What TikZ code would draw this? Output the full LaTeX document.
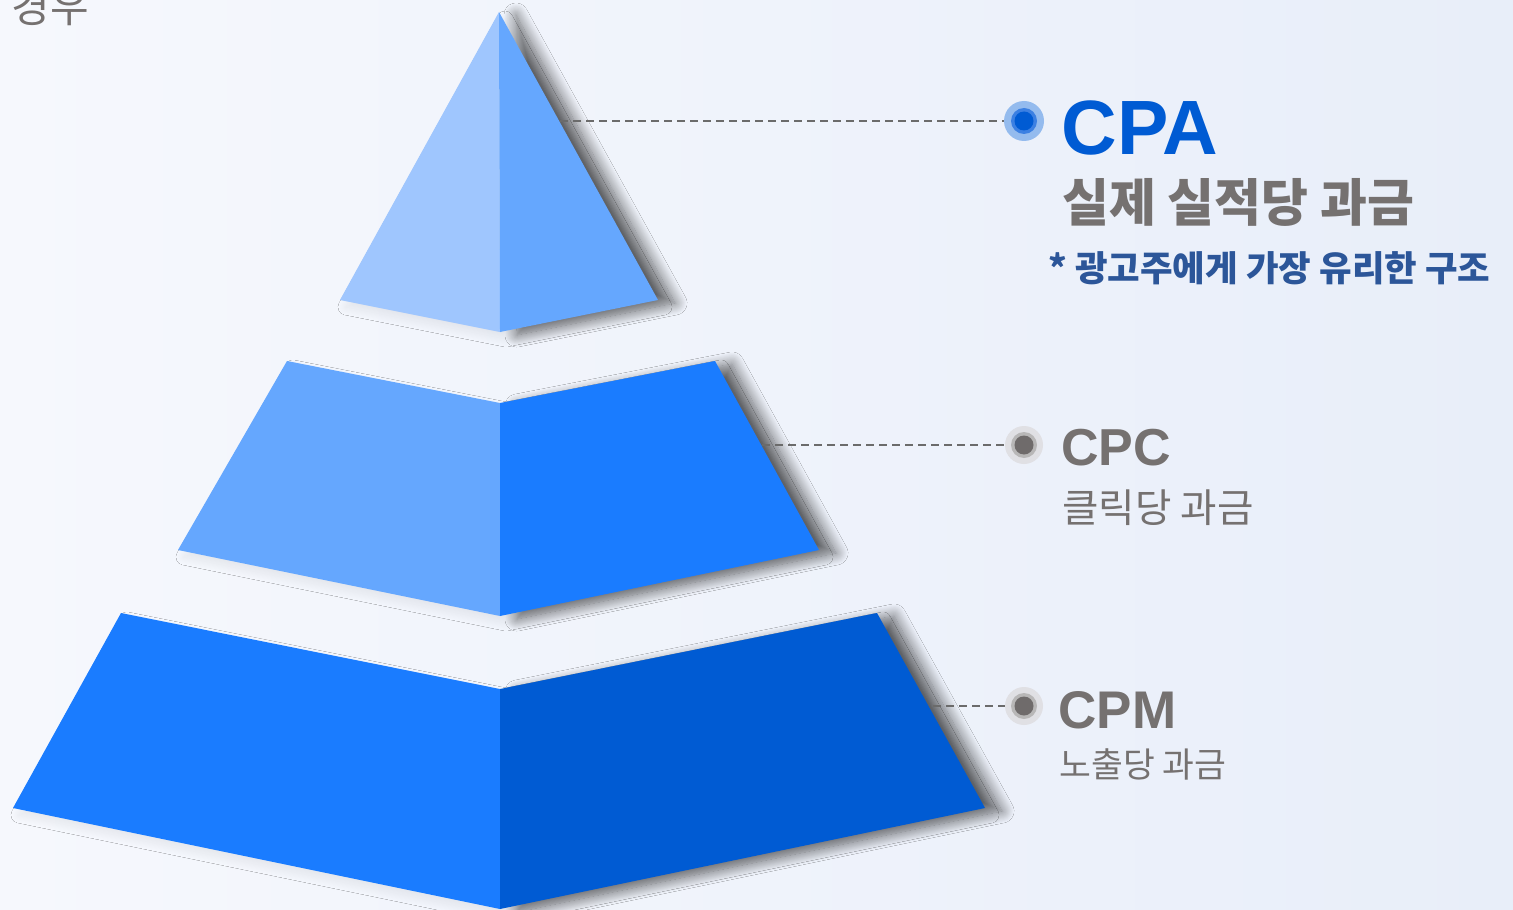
\documentclass[tikz,border=0pt]{standalone}
\usepackage{fontspec}
\setmainfont{Liberation Sans}
\newfontfamily\kr{Noto Sans CJK KR}
\usetikzlibrary{calc,shadows.blur}
\definecolor{bgL}{HTML}{F6F8FD}
\definecolor{bgR}{HTML}{E8EEF9}
\definecolor{cA}{HTML}{9FC6FE}
\definecolor{cB}{HTML}{65A7FE}
\definecolor{cC}{HTML}{1A7CFF}
\definecolor{cD}{HTML}{005BD3}
\definecolor{txtgray}{HTML}{757170}
\definecolor{subblue}{HTML}{2C5699}
\definecolor{dashgray}{HTML}{6B6B6B}
\definecolor{ringblue}{HTML}{94BBEE}
\definecolor{midblue}{HTML}{3C80E2}
\definecolor{ringgray}{HTML}{E0E0E4}
\definecolor{midgray}{HTML}{B8B7B7}
\definecolor{dotgray}{HTML}{6F6B6B}
% raw outlines (used for shadows)
\newcommand\pyrTopR{(499,12) -- (658,300) -- (500,332) -- cycle}
\newcommand\pyrMidR{(500,403) -- (715,361) -- (819,550) -- (500,616) -- cycle}
\newcommand\pyrBotR{(500,689) -- (877,613) -- (985,808) -- (500,909) -- cycle}
\newcommand\pyrTopAll{(499,12) -- (658,300) -- (500,332) -- (340,300) -- cycle}
\newcommand\pyrMidAll{(287,361) -- (500,403) -- (715,361) -- (819,550) -- (500,616) -- (178,550) -- cycle}
\newcommand\pyrBotAll{(121,613) -- (500,689) -- (877,613) -- (985,808) -- (500,909) -- (13,808) -- cycle}
\tikzset{
  hard shadow/.style={blur shadow={shadow xshift=8.5pt, shadow yshift=-1.5pt, shadow blur radius=6pt, shadow blur steps=16, shadow opacity=58}},
  soft shadow/.style={blur shadow={shadow xshift=3pt, shadow yshift=-3.5pt, shadow blur radius=4pt, shadow blur steps=10, shadow opacity=7}},
  leader/.style={draw=dashgray, line width=1pt, dash pattern=on 4pt off 2.5pt},
  title/.style={anchor=base west, inner sep=0pt, font=\bfseries},
  krtext/.style={anchor=base west, inner sep=0pt},
}
\begin{document}
\begin{tikzpicture}[x=0.5pt,y=-0.5pt]
\useasboundingbox (0,0) rectangle (1513,909);
\clip (0,0) rectangle (1513,909);
\shade[left color=bgL, right color=bgR] (0,0) rectangle (1513,909);

% coordinates
\coordinate (tA) at (499,12);   \coordinate (tL) at (340,300);
\coordinate (tC) at (500,332);  \coordinate (tR) at (658,300);
\coordinate (mTL) at (287,361); \coordinate (mTC) at (500,403);
\coordinate (mTR) at (715,361); \coordinate (mBR) at (819,550);
\coordinate (mBC) at (500,616); \coordinate (mBL) at (178,550);
\coordinate (bTL) at (121,613); \coordinate (bTC) at (500,689);
\coordinate (bTR) at (877,613); \coordinate (bBR) at (985,808);
\coordinate (bBC) at (500,909); \coordinate (bBL) at (13,808);

% shadows
\path[soft shadow] \pyrTopAll;
\path[soft shadow] \pyrMidAll;
\path[soft shadow] \pyrBotAll;
\path[hard shadow] \pyrTopR;
\path[hard shadow] \pyrMidR;
\path[hard shadow] \pyrBotR;

% top piece
\fill[cA] (tA) -- (tC) -- (tL) -- cycle;
\fill[cB] (tA) -- (tR) -- (tC) -- cycle;
% middle piece
\fill[cB] (mTL) -- (mTC) -- (mBC) -- (mBL) -- cycle;
\fill[cC] (mTC) -- (mTR) -- (mBR) -- (mBC) -- cycle;
% bottom piece
\fill[cC] (bTL) -- (bTC) -- (bBC) -- (bBL) -- cycle;
\fill[cD] (bTC) -- (bTR) -- (bBR) -- (bBC) -- cycle;

% leaders
\coordinate (lA) at (560,121);
\coordinate (lB) at (762,445);
\coordinate (lC) at (933,706);
\node[circle, fill=ringblue, minimum size=20pt, inner sep=0pt] (dA) at (1024,121) {};
\node[circle, fill=midblue, minimum size=13pt, inner sep=0pt] at (dA) {};
\node[circle, fill=cD, minimum size=9.5pt, inner sep=0pt] at (dA) {};
\node[circle, fill=ringgray, minimum size=19pt, inner sep=0pt] (dB) at (1024,445) {};
\node[circle, fill=midgray, minimum size=13pt, inner sep=0pt] at (dB) {};
\node[circle, fill=dotgray, minimum size=9.5pt, inner sep=0pt] at (dB) {};
\node[circle, fill=ringgray, minimum size=19pt, inner sep=0pt] (dC) at (1024,706) {};
\node[circle, fill=midgray, minimum size=13pt, inner sep=0pt] at (dC) {};
\node[circle, fill=dotgray, minimum size=9.5pt, inner sep=0pt] at (dC) {};
\draw[leader] (lA) -- (dA.west);
\draw[leader] (lB) -- (dB.west);
\draw[leader] (lC) -- (dC.west);

% texts
\node[title, text=cD, font=\bfseries\fontsize{38.5}{40}\selectfont] (tCPA) at (1061,155) {CPA};
\node[krtext, text=txtgray, font=\kr\bfseries\fontsize{25.5}{28}\selectfont] (sCPA) at (1062,221) {실제 실적당 과금};
\node[krtext, text=subblue, font=\kr\bfseries\fontsize{17.7}{20}\selectfont] (nCPA) at (1048,281) {* 광고주에게 가장 유리한 구조};
\node[title, text=txtgray, font=\bfseries\fontsize{26}{28}\selectfont] (tCPC) at (1061,465) {CPC};
\node[krtext, text=txtgray, font=\kr\fontsize{19.8}{21}\selectfont] (sCPC) at (1062,522) {클릭당 과금};
\node[title, text=txtgray, font=\bfseries\fontsize{26.5}{28}\selectfont] (tCPM) at (1058,728) {CPM};
\node[krtext, text=txtgray, font=\kr\fontsize{17.3}{18}\selectfont] (sCPM) at (1059,777) {노출당 과금};
\node[krtext, text=txtgray, font=\kr\fontsize{21}{23}\selectfont] (kw) at (11,23) {경우};
\end{tikzpicture}
\end{document}
